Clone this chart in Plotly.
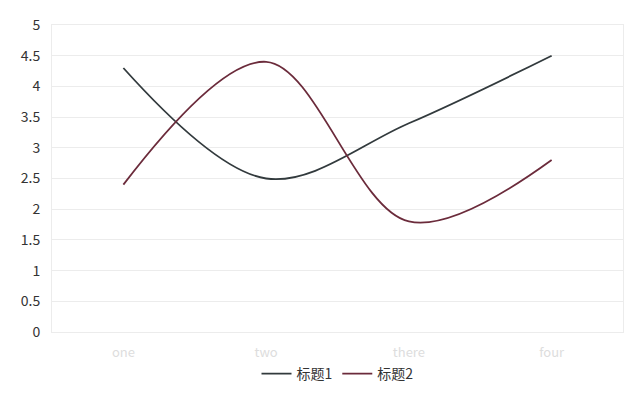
import plotly.graph_objects as go

categories = ["one", "two", "there", "four"]
series1_name = "标题1"
series1 = [4.3, 2.5, 3.4, 4.5]
series2_name = "标题2"
series2 = [2.4, 4.4, 1.8, 2.8]
y_ticks = [0, 0.5, 1, 1.5, 2, 2.5, 3, 3.5, 4, 4.5, 5]

font_family = "Noto Sans CJK SC, DejaVu Sans, sans-serif"

fig = go.Figure()
fig.add_trace(go.Scatter(x=categories, y=series1, name=series1_name, mode="lines",
                         line=dict(color="#323a3d", width=1.8, shape="spline", smoothing=1.0)))
fig.add_trace(go.Scatter(x=categories, y=series2, name=series2_name, mode="lines",
                         line=dict(color="#6b2b3b", width=1.8, shape="spline", smoothing=1.0)))

# page body has an 8px default margin, compensated in the figure margins
fig.update_layout(
    width=640, height=396,
    margin=dict(l=44, r=25, t=17, b=72, autoexpand=False),
    paper_bgcolor="white", plot_bgcolor="white",
    font=dict(family=font_family, size=12, color="#333"),
    showlegend=True,
    legend=dict(orientation="h", x=0.5, xanchor="center", y=-0.085, yanchor="top",
                font=dict(size=14, color="#333"), itemwidth=30, tracegroupgap=0),
)
fig.update_xaxes(type="category", range=[-0.5, 3.5], showgrid=False, automargin=False,
                 showline=True, mirror=True, linecolor="#ececec", linewidth=1,
                 tickfont=dict(color="#dddddd", size=13), ticks="outside", ticklen=8,
                 tickcolor="rgba(0,0,0,0)", zeroline=False)
fig.update_yaxes(range=[0, 5], tickvals=y_ticks, ticktext=[f"{v:g}" for v in y_ticks],
                 showgrid=True, gridcolor="#ececec", gridwidth=1, automargin=False,
                 showline=True, mirror=True, linecolor="#ececec", linewidth=1,
                 tickfont=dict(color="#333", size=14), ticks="outside", ticklen=8,
                 tickcolor="rgba(0,0,0,0)", zeroline=False)

fig.write_html("out.html")
